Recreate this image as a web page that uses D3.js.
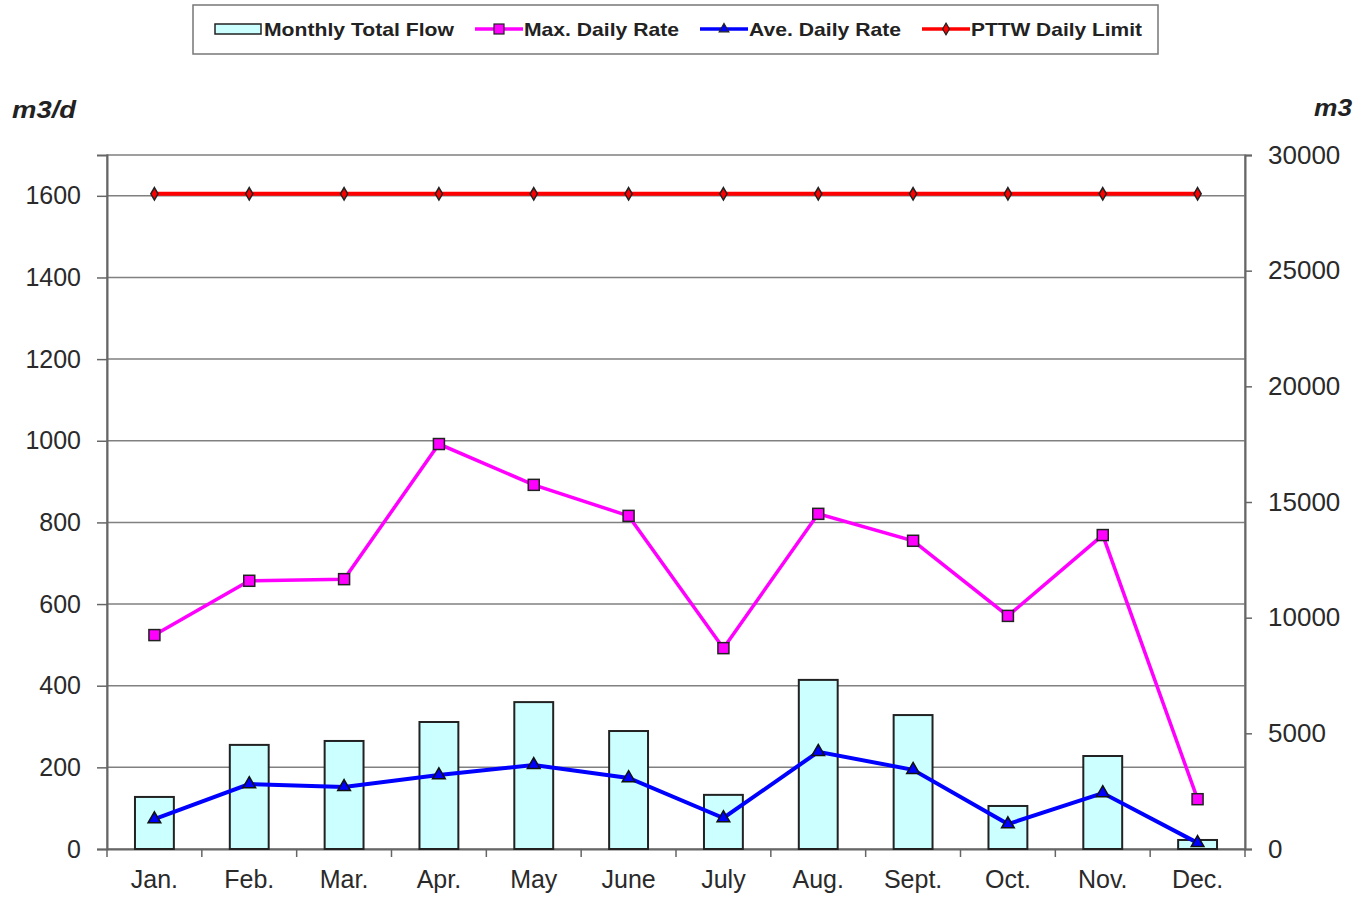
<!DOCTYPE html>
<html>
<head>
<meta charset="utf-8">
<script src="https://cdn.jsdelivr.net/npm/d3@7"></script>
<style>
  body { margin: 0; background: #fff; }
  svg text { font-family: Arial, "Liberation Sans", sans-serif; }
</style>
</head>
<body>
<div id="chart"></div>
<script>
const months = ['Jan.', 'Feb.', 'Mar.', 'Apr.', 'May', 'June', 'July', 'Aug.', 'Sept.', 'Oct.', 'Nov.', 'Dec.'];
const monthlyTotal = [2250, 4500, 4670, 5490, 6350, 5100, 2340, 7310, 5790, 1860, 4020, 390];
const maxDaily = [524, 657, 661, 992, 892, 816, 492, 821, 755, 571, 769, 122];
const aveDaily = [73, 159, 152, 181, 206, 174, 76, 238, 194, 61, 137, 15];
const pttwLimit = [1605, 1605, 1605, 1605, 1605, 1605, 1605, 1605, 1605, 1605, 1605, 1605];
const leftTicks = [0, 200, 400, 600, 800, 1000, 1200, 1400, 1600];
const rightTicks = [0, 5000, 10000, 15000, 20000, 25000, 30000];

const W = 1359, H = 898;
const [x0, y0, w0, h0] = [107, 155, 1138, 694];

const svg = d3.select('#chart').append('svg')
  .attr('width', W)
  .attr('height', H);

const x = d3.scaleBand().domain(months).range([x0, x0 + w0]);
const yL = d3.scaleLinear().domain([0, 1700]).range([y0 + h0, y0]);
const yR = d3.scaleLinear().domain([0, 30000]).range([y0 + h0, y0]);
const cx = m => x(m) + x.bandwidth() / 2;

// gridlines
svg.append('g').selectAll('line')
  .data(leftTicks.filter(d => d > 0))
  .enter().append('line')
  .attr('x1', x0).attr('x2', x0 + w0)
  .attr('y1', d => yL(d)).attr('y2', d => yL(d))
  .attr('stroke', '#808080').attr('stroke-width', 1.5);

// plot border
svg.append('rect')
  .attr('x', x0).attr('y', y0).attr('width', w0).attr('height', h0)
  .attr('fill', 'none').attr('stroke', '#808080').attr('stroke-width', 1.5);

// axes
const axisStyle = g => {
  g.select('.domain').attr('stroke', '#666').attr('stroke-width', 2);
  g.selectAll('.tick line').attr('stroke', '#666').attr('stroke-width', 1.5);
  g.selectAll('.tick text').attr('fill', '#2a2a2a').style('font-size', '25px')
    .style('font-family', 'Arial, "Liberation Sans", sans-serif');
};

svg.append('g')
  .attr('transform', `translate(${x0},0)`)
  .call(d3.axisLeft(yL).tickValues(leftTicks).tickFormat(d3.format('d')).tickSize(10).tickPadding(16))
  .call(axisStyle);

const rAxis = svg.append('g')
  .attr('transform', `translate(${x0 + w0},0)`)
  .call(d3.axisRight(yR).tickValues(rightTicks).tickFormat(d3.format('d')).tickSize(7).tickPadding(16))
  .call(axisStyle);
rAxis.selectAll('.tick text').style('font-size', '26px');

const xAxis = svg.append('g')
  .attr('transform', `translate(0,${y0 + h0})`)
  .call(d3.axisBottom(x).tickSize(0).tickPadding(28))
  .call(axisStyle);
xAxis.selectAll('.tick text').attr('dy', '0.45em');

// category boundary ticks
svg.append('g').selectAll('line')
  .data(d3.range(months.length + 1))
  .enter().append('line')
  .attr('x1', i => x0 + i * x.step()).attr('x2', i => x0 + i * x.step())
  .attr('y1', y0 + h0).attr('y2', y0 + h0 + 8)
  .attr('stroke', '#666').attr('stroke-width', 1.5);

// bars
const bw = x.bandwidth() * 0.41;
svg.append('g').selectAll('rect')
  .data(monthlyTotal)
  .enter().append('rect')
  .attr('x', (d, i) => cx(months[i]) - bw / 2)
  .attr('y', d => yR(d))
  .attr('width', bw)
  .attr('height', d => yR(0) - yR(d))
  .attr('fill', '#ccffff')
  .attr('stroke', '#222').attr('stroke-width', 2);

const line = d3.line().x((d, i) => cx(months[i])).y(d => yL(d));

// PTTW limit
svg.append('path').datum(pttwLimit)
  .attr('d', line).attr('fill', 'none')
  .attr('stroke', '#ff0000').attr('stroke-width', 4);
svg.append('g').selectAll('path')
  .data(pttwLimit)
  .enter().append('path')
  .attr('d', d3.symbol(d3.symbolDiamond, 45))
  .attr('transform', (d, i) => `translate(${cx(months[i])},${yL(d)})`)
  .attr('fill', '#ff0000').attr('stroke', '#222').attr('stroke-width', 1.5);

// max daily
svg.append('path').datum(maxDaily)
  .attr('d', line).attr('fill', 'none')
  .attr('stroke', '#ff00ff').attr('stroke-width', 3.5);
svg.append('g').selectAll('rect')
  .data(maxDaily)
  .enter().append('rect')
  .attr('x', (d, i) => cx(months[i]) - 5.5)
  .attr('y', d => yL(d) - 5.5)
  .attr('width', 11).attr('height', 11)
  .attr('fill', '#ff00ff').attr('stroke', '#222').attr('stroke-width', 1.5);

// ave daily
svg.append('path').datum(aveDaily)
  .attr('d', line).attr('fill', 'none')
  .attr('stroke', '#0000ff').attr('stroke-width', 4);
svg.append('g').selectAll('path')
  .data(aveDaily)
  .enter().append('path')
  .attr('d', d3.symbol(d3.symbolTriangle, 70))
  .attr('transform', (d, i) => `translate(${cx(months[i])},${yL(d)})`)
  .attr('fill', '#0000ff').attr('stroke', '#111').attr('stroke-width', 1.5);

// axis titles
svg.append('text').attr('x', 12).attr('y', 118)
  .attr('textLength', 64).attr('lengthAdjust', 'spacingAndGlyphs')
  .style('font-size', '24px').style('font-weight', 'bold').style('font-style', 'italic')
  .attr('fill', '#222').text('m3/d');
svg.append('text').attr('x', 1314).attr('y', 116)
  .attr('textLength', 38).attr('lengthAdjust', 'spacingAndGlyphs')
  .style('font-size', '24px').style('font-weight', 'bold').style('font-style', 'italic')
  .attr('fill', '#222').text('m3');

// legend
const lg = svg.append('g');
lg.append('rect').attr('x', 193).attr('y', 5).attr('width', 965).attr('height', 49)
  .attr('fill', '#fff').attr('stroke', '#777').attr('stroke-width', 1.5);
const ly = 29;
const legendItems = [
  { label: 'Monthly Total Flow', x: 215, w: 190, type: 'bar' },
  { label: 'Max. Daily Rate', x: 475, w: 155, type: 'square', color: '#ff00ff' },
  { label: 'Ave. Daily Rate', x: 700, w: 152, type: 'triangle', color: '#0000ff' },
  { label: 'PTTW Daily Limit', x: 922, w: 171, type: 'diamond', color: '#ff0000' }
];
legendItems.forEach(it => {
  const g = lg.append('g');
  if (it.type === 'bar') {
    g.append('rect').attr('x', it.x).attr('y', ly - 5).attr('width', 46).attr('height', 10)
      .attr('fill', '#ccffff').attr('stroke', '#222').attr('stroke-width', 1.5);
  } else {
    g.append('line').attr('x1', it.x).attr('x2', it.x + 48).attr('y1', ly).attr('y2', ly)
      .attr('stroke', it.color).attr('stroke-width', 3.5);
    const mx = it.x + 24;
    if (it.type === 'square') {
      g.append('rect').attr('x', mx - 5).attr('y', ly - 5).attr('width', 10).attr('height', 10)
        .attr('fill', it.color).attr('stroke', '#222').attr('stroke-width', 1.2);
    } else {
      const sym = it.type === 'triangle' ? d3.symbolTriangle : d3.symbolDiamond;
      g.append('path').attr('d', d3.symbol(sym, 40))
        .attr('transform', `translate(${mx},${ly})`)
        .attr('fill', it.color).attr('stroke', '#222').attr('stroke-width', 1.2);
    }
  }
  g.append('text').attr('x', it.x + 49).attr('y', ly + 7)
    .attr('textLength', it.w).attr('lengthAdjust', 'spacingAndGlyphs')
    .style('font-size', '19px').style('font-weight', 'bold').attr('fill', '#222')
    .text(it.label);
});
</script>
</body>
</html>
